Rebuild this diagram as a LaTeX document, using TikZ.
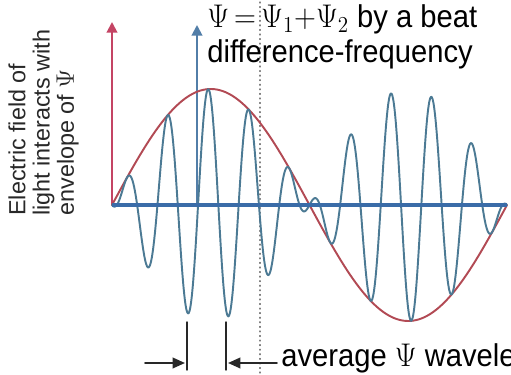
\documentclass[tikz,border=0pt]{standalone}
\usepackage[no-math]{fontspec}
\setmainfont{Liberation Sans}
\usetikzlibrary{arrows.meta}
\definecolor{wavblue}{RGB}{76,122,148}
\definecolor{axblue}{RGB}{58,108,168}
\definecolor{arrblue}{RGB}{82,126,168}
\definecolor{envred}{RGB}{178,74,84}
\definecolor{arrred}{RGB}{196,68,100}
\definecolor{txtgray}{RGB}{40,40,40}

\begin{document}
\begin{tikzpicture}[line cap=round,line join=round,x=0.02cm,y=0.02cm,
    axtip/.style={-{Triangle[length=6pt,width=6pt]}},
    gaptip/.style={line width=1.1pt,color=txtgray,-{Triangle[length=7pt,width=6pt]}}]
  \useasboundingbox (0,0) rectangle (511,375);
  \clip (0,0) rectangle (511,375);
  % axes
  \coordinate (orig) at (112,170);
  \coordinate (axend) at (507,170);
  \coordinate (redtop) at (112,353);
  \coordinate (bluebase) at (197,170);
  \coordinate (bluetop) at (197,350);
  \coordinate (dottop) at (260,373);
  \coordinate (dotbot) at (260,0);
  \draw [line width=0.6pt,color=gray,dotted] (dottop) -- (dotbot);
  \draw [axtip,line width=1.1pt,color=arrred] (orig) -- (redtop);
  \draw [axtip,line width=1.1pt,color=arrblue] (bluebase) -- (bluetop);
  % envelope and beat
  \draw [line width=1.1pt,color=envred] plot[domain=112:507,samples=200,smooth]
    (\x,{170+116*sin((\x-112)/395*360)});
  \draw [line width=1.1pt,color=wavblue] plot[domain=112:507,samples=500,smooth]
    (\x,{170+116*sin((\x-112)/395*360)*cos((\x-127)/40.6*360)});
  \draw [line width=2.6pt,color=axblue,line cap=butt] (orig) -- (axend);
  % wavelength marks
  \coordinate (tkAtop) at (187,53);
  \coordinate (tkAbot) at (187,5);
  \coordinate (tkBtop) at (226,53);
  \coordinate (tkBbot) at (226,5);
  \draw [line width=0.8pt,color=txtgray] (tkAtop) -- (tkAbot);
  \draw [line width=0.8pt,color=txtgray] (tkBtop) -- (tkBbot);
  \coordinate (lfrom) at (145,12);
  \coordinate (lto) at (185,12);
  \coordinate (rfrom) at (277,12);
  \coordinate (rto) at (228,12);
  \draw [gaptip] (lfrom) -- (lto);
  \draw [gaptip] (rfrom) -- (rto);
  % labels
  \node (title) [anchor=base west,inner sep=0pt,align=left,text=black,yscale=1.08,
    font=\fontsize{16.6}{18.5}\selectfont] at (207,312)
    {$\Psi\,{=}\,\Psi_{1}{+}\Psi_{2}$ by a beat\\difference-frequency};
  \node (avg) [anchor=base west,inner sep=0pt,text=black,yscale=1.08,
    font=\fontsize{16.6}{19}\selectfont] at (281,8) {average $\Psi$ wavelength};
  \node (ylabel) [rotate=90,anchor=north west,inner sep=0pt,align=left,text=txtgray,
    font=\fontsize{13.3}{13.8}\selectfont] at (8,159)
    {Electric field of\\light interacts with\\envelope of $\Psi$};
\end{tikzpicture}
\end{document}
